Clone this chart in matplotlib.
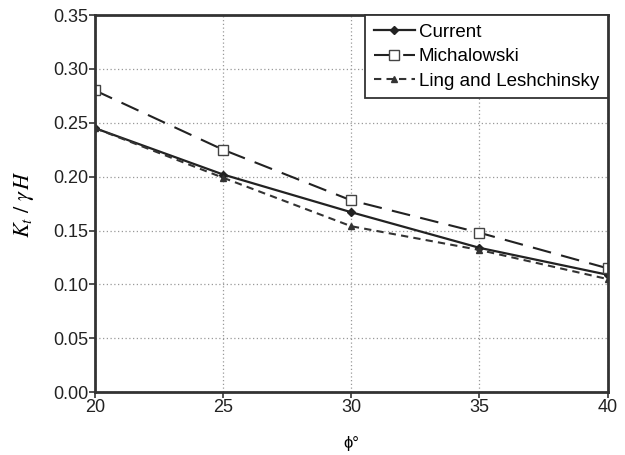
import matplotlib
matplotlib.use('Agg')
import matplotlib.pyplot as plt

# friction angle (deg)
phi = [20, 25, 30, 35, 40]

# Kt / gamma H for each method
current = [0.245, 0.202, 0.167, 0.134, 0.109]
michalowski = [0.280, 0.225, 0.178, 0.148, 0.115]
ling = [0.245, 0.199, 0.154, 0.132, 0.105]

plt.rcParams['font.family'] = ['Liberation Sans', 'DejaVu Sans']
plt.rcParams['mathtext.fontset'] = 'stix'

fig, ax = plt.subplots(figsize=(6.25, 4.55), dpi=100)
fig.subplots_adjust(left=0.152, right=0.972, top=0.967, bottom=0.138)

ax.plot(phi, current, color='#222222', lw=1.6, marker='D', ms=4,
        mfc='#222222', mec='#222222', label='Current')
ax.plot(phi, michalowski, color='#222222', lw=1.5, ls=(0, (9, 5)),
        marker='s', ms=6.5, mfc='white', mec='#444444', mew=1.0,
        label='Michalowski')
ax.plot(phi, ling, color='#333333', lw=1.5, ls=(0, (3.5, 2.5)),
        marker='^', ms=5, mfc='#333333', mec='#333333',
        label='Ling and Leshchinsky')

ax.set_xlim(20, 40)
ax.set_ylim(0, 0.35)
ax.set_xticks(phi)
ax.set_yticks([0.00, 0.05, 0.10, 0.15, 0.20, 0.25, 0.30, 0.35])
ax.set_yticklabels(['%.2f' % v for v in ax.get_yticks()])

ax.grid(True, color='#999999', ls=(0, (1, 2)), lw=0.9)
for s in ax.spines.values():
    s.set_linewidth(2.0)
    s.set_color('#333333')
ax.tick_params(axis='both', direction='out', length=4, width=1.2,
               colors='#333333', labelsize=13, labelcolor='#222222', pad=1)

ax.set_ylabel(r'$K_t\ /\ \gamma\,H$', fontsize=16, labelpad=12)
ax.set_xlabel('ϕ°', fontsize=12, labelpad=14)

leg = ax.legend(loc='upper right', fontsize=13.5, frameon=True, fancybox=False,
                borderaxespad=0, handlelength=2.2, handletextpad=0.2,
                borderpad=0.45, labelspacing=0.4)
leg.get_frame().set_edgecolor('#333333')
leg.get_frame().set_linewidth(1.3)
leg.get_frame().set_alpha(1)

fig.savefig('out.png')
